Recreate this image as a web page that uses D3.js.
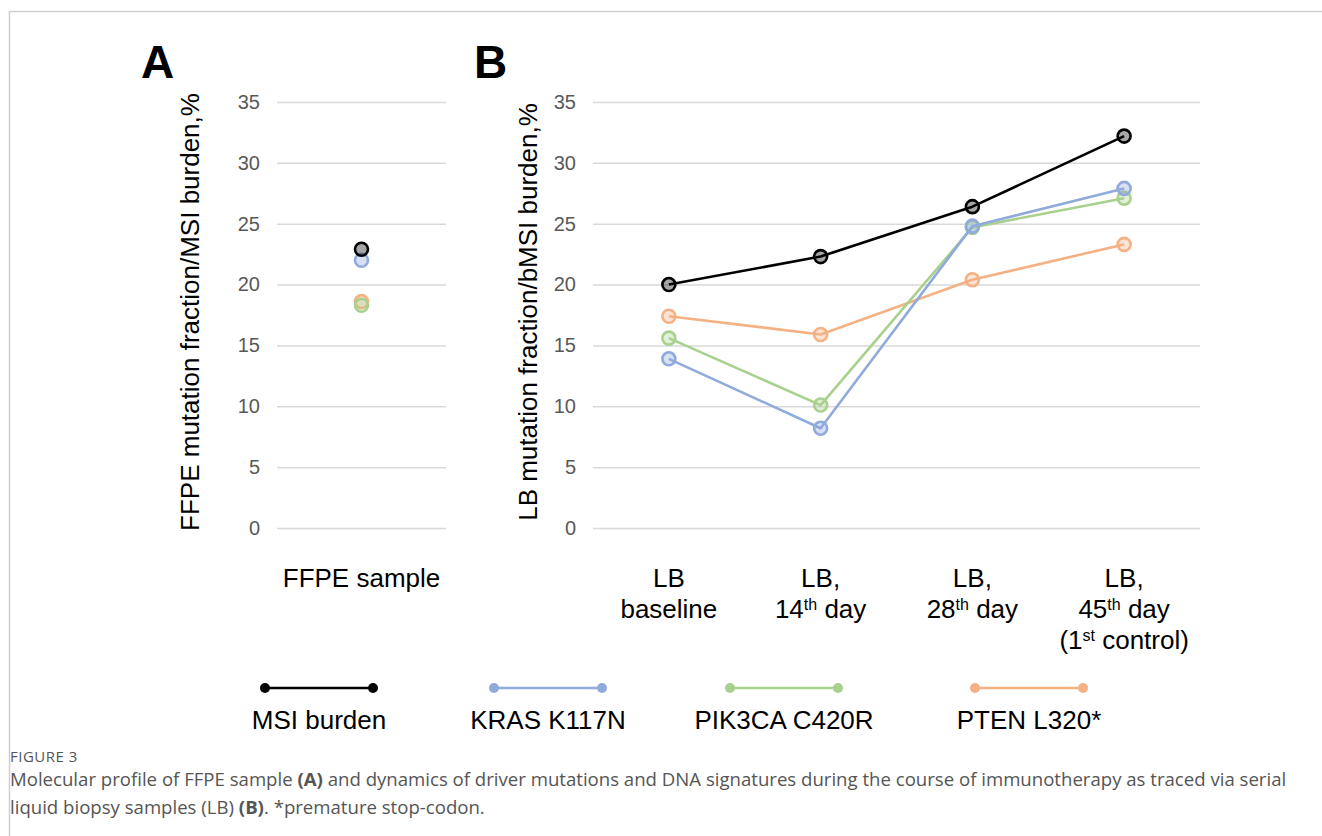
<!DOCTYPE html>
<html>
<head>
<meta charset="utf-8">
<script src="https://cdn.jsdelivr.net/npm/d3@7"></script>
<style>
  body { margin: 0; background: #fff; }
  svg text { font-family: "Liberation Sans", Arial, sans-serif; }
  .grid line { stroke: #d9d9d9; stroke-width: 1.5; }
  .grid .domain { display: none; }
  .grid text { fill: #595959; font-size: 20px; }
</style>
</head>
<body>
<div id="chart"></div>
<script>
// ==== data ====
const seriesNames = ["MSI burden", "KRAS K117N", "PIK3CA C420R", "PTEN L320*"];
const seriesColors = ["#000000", "#8faadc", "#a9d18e", "#f4b183"];

// panel A: FFPE sample
const ffpeCategory = ["FFPE sample"];
const ffpeValues = [22.9, 22.0, 18.3, 18.6];

// panel B: liquid biopsies
const lbCategories = ["baseline", "14th", "28th", "45th"];
const msiValues    = [20.0, 22.3, 26.4, 32.2];
const krasValues   = [13.9, 8.2, 24.8, 27.9];
const pik3caValues = [15.6, 10.1, 24.7, 27.1];
const ptenValues   = [17.4, 15.9, 20.4, 23.3];

const yTicks = [0, 5, 10, 15, 20, 25, 30, 35];

// category labels, lines with optional superscript
const lbLabels = {
  "baseline": [[["LB", ""]], [["baseline", ""]]],
  "14th": [[["LB,", ""]], [["14", ""], ["th", "sup"], [" day", ""]]],
  "28th": [[["LB,", ""]], [["28", ""], ["th", "sup"], [" day", ""]]],
  "45th": [[["LB,", ""]], [["45", ""], ["th", "sup"], [" day", ""]], [["(1", ""], ["st", "sup"], [" control)", ""]]]
};

const W = 1322, H = 836;

const svg = d3.select("#chart")
  .append("svg")
    .attr("width", W)
    .attr("height", H);

// figure frame
svg.append("path")
  .attr("d", `M9.5,${H + 5} V11.5 H${W + 5}`)
  .attr("fill", "none")
  .attr("stroke", "#cfcfcf")
  .attr("stroke-width", 1.5);

// ==== scales ====
const y = d3.scaleLinear().domain([0, 35]).range([528, 102]);

const xA = d3.scalePoint().domain(ffpeCategory).range([277, 446]).padding(0.5);
const xB = d3.scalePoint().domain(lbCategories).range([593, 1200]).padding(0.5);

function drawGrid(x0, x1) {
  svg.append("g")
    .attr("class", "grid")
    .attr("transform", `translate(${x0},0)`)
    .call(d3.axisLeft(y)
      .tickValues(yTicks)
      .tickSize(-(x1 - x0))
      .tickPadding(17)
      .tickFormat(d3.format("d")));
}

drawGrid(277, 446);
drawGrid(593, 1200);

// panel letters
svg.append("text").attr("x", 141).attr("y", 78)
  .style("font-size", "46px").style("font-weight", "bold").text("A");
svg.append("text").attr("x", 474).attr("y", 78)
  .style("font-size", "46px").style("font-weight", "bold").text("B");

// y axis titles
svg.append("text")
  .attr("transform", `translate(199,${312}) rotate(-90)`)
  .attr("text-anchor", "middle")
  .style("font-size", "26px")
  .text("FFPE mutation fraction/MSI burden,%");

svg.append("text")
  .attr("transform", `translate(537,${312}) rotate(-90)`)
  .attr("text-anchor", "middle")
  .style("font-size", "26px")
  .text("LB mutation fraction/bMSI burden,%");

// x category labels
svg.append("text")
  .attr("x", xA("FFPE sample"))
  .attr("y", 587)
  .attr("text-anchor", "middle")
  .style("font-size", "26px")
  .text("FFPE sample");

lbCategories.forEach(c => {
  const lines = lbLabels[c];
  lines.forEach((parts, i) => {
    const t = svg.append("text")
      .attr("x", xB(c))
      .attr("y", 587 + i * 31)
      .attr("text-anchor", "middle")
      .style("font-size", "26px");
    parts.forEach(p => {
      const ts = t.append("tspan").text(p[0]);
      if (p[1] === "sup") ts.attr("baseline-shift", "super").style("font-size", "16px");
    });
  });
});

// ==== panel A points ====
const marker = (g, cx, cy, col) => {
  g.append("circle")
    .attr("cx", cx).attr("cy", cy).attr("r", 6.5)
    .attr("fill", col).attr("fill-opacity", 0.35)
    .attr("stroke", col).attr("stroke-width", 2.6);
};

const gA = svg.append("g");
// draw in order so lower series sit below like the reference
[3, 2, 1, 0].forEach(i => {
  marker(gA, xA("FFPE sample"), y(ffpeValues[i]), seriesColors[i]);
});

// ==== panel B lines ====
const lbSeries = [msiValues, krasValues, pik3caValues, ptenValues];
const line = d3.line()
  .x((d, i) => xB(lbCategories[i]))
  .y(d => y(d));

const gB = svg.append("g");
[3, 2, 1, 0].forEach(i => {
  gB.append("path")
    .datum(lbSeries[i])
    .attr("d", line)
    .attr("fill", "none")
    .attr("stroke", seriesColors[i])
    .attr("stroke-width", 2.6)
    .attr("stroke-linejoin", "round");
  lbSeries[i].forEach((v, j) => marker(gB, xB(lbCategories[j]), y(v), seriesColors[i]));
});

// ==== legend ====
const legendX = [265, 494, 730, 975];
const legendLen = 108;
seriesNames.forEach((name, i) => {
  const g = svg.append("g");
  g.append("line")
    .attr("x1", legendX[i]).attr("x2", legendX[i] + legendLen)
    .attr("y1", 688).attr("y2", 688)
    .attr("stroke", seriesColors[i]).attr("stroke-width", 2.6);
  [legendX[i], legendX[i] + legendLen].forEach(cx => {
    g.append("circle").attr("cx", cx).attr("cy", 688).attr("r", 5)
      .attr("fill", seriesColors[i]);
  });
  g.append("text")
    .attr("x", legendX[i] + legendLen / 2)
    .attr("y", 729)
    .attr("text-anchor", "middle")
    .style("font-size", "26px")
    .text(name);
});

// ==== caption ====
const cap = svg.append("g").style("fill", "#555");
cap.append("text")
  .attr("x", 10).attr("y", 762)
  .style("font-family", "'Open Sans', sans-serif")
  .style("font-size", "15px")
  .style("letter-spacing", "0.5px")
  .text("FIGURE 3");

const cap1 = cap.append("text")
  .attr("x", 10).attr("y", 786)
  .style("font-family", "'Open Sans', sans-serif")
  .style("font-size", "18.6px");
cap1.append("tspan").text("Molecular profile of FFPE sample ");
cap1.append("tspan").style("font-weight", "bold").text("(A)");
cap1.append("tspan").text(" and dynamics of driver mutations and DNA signatures during the course of immunotherapy as traced via serial");

const cap2 = cap.append("text")
  .attr("x", 10).attr("y", 814)
  .style("font-family", "'Open Sans', sans-serif")
  .style("font-size", "18.6px");
cap2.append("tspan").text("liquid biopsy samples (LB) ");
cap2.append("tspan").style("font-weight", "bold").text("(B)");
cap2.append("tspan").text(". *premature stop-codon.");
</script>
</body>
</html>
